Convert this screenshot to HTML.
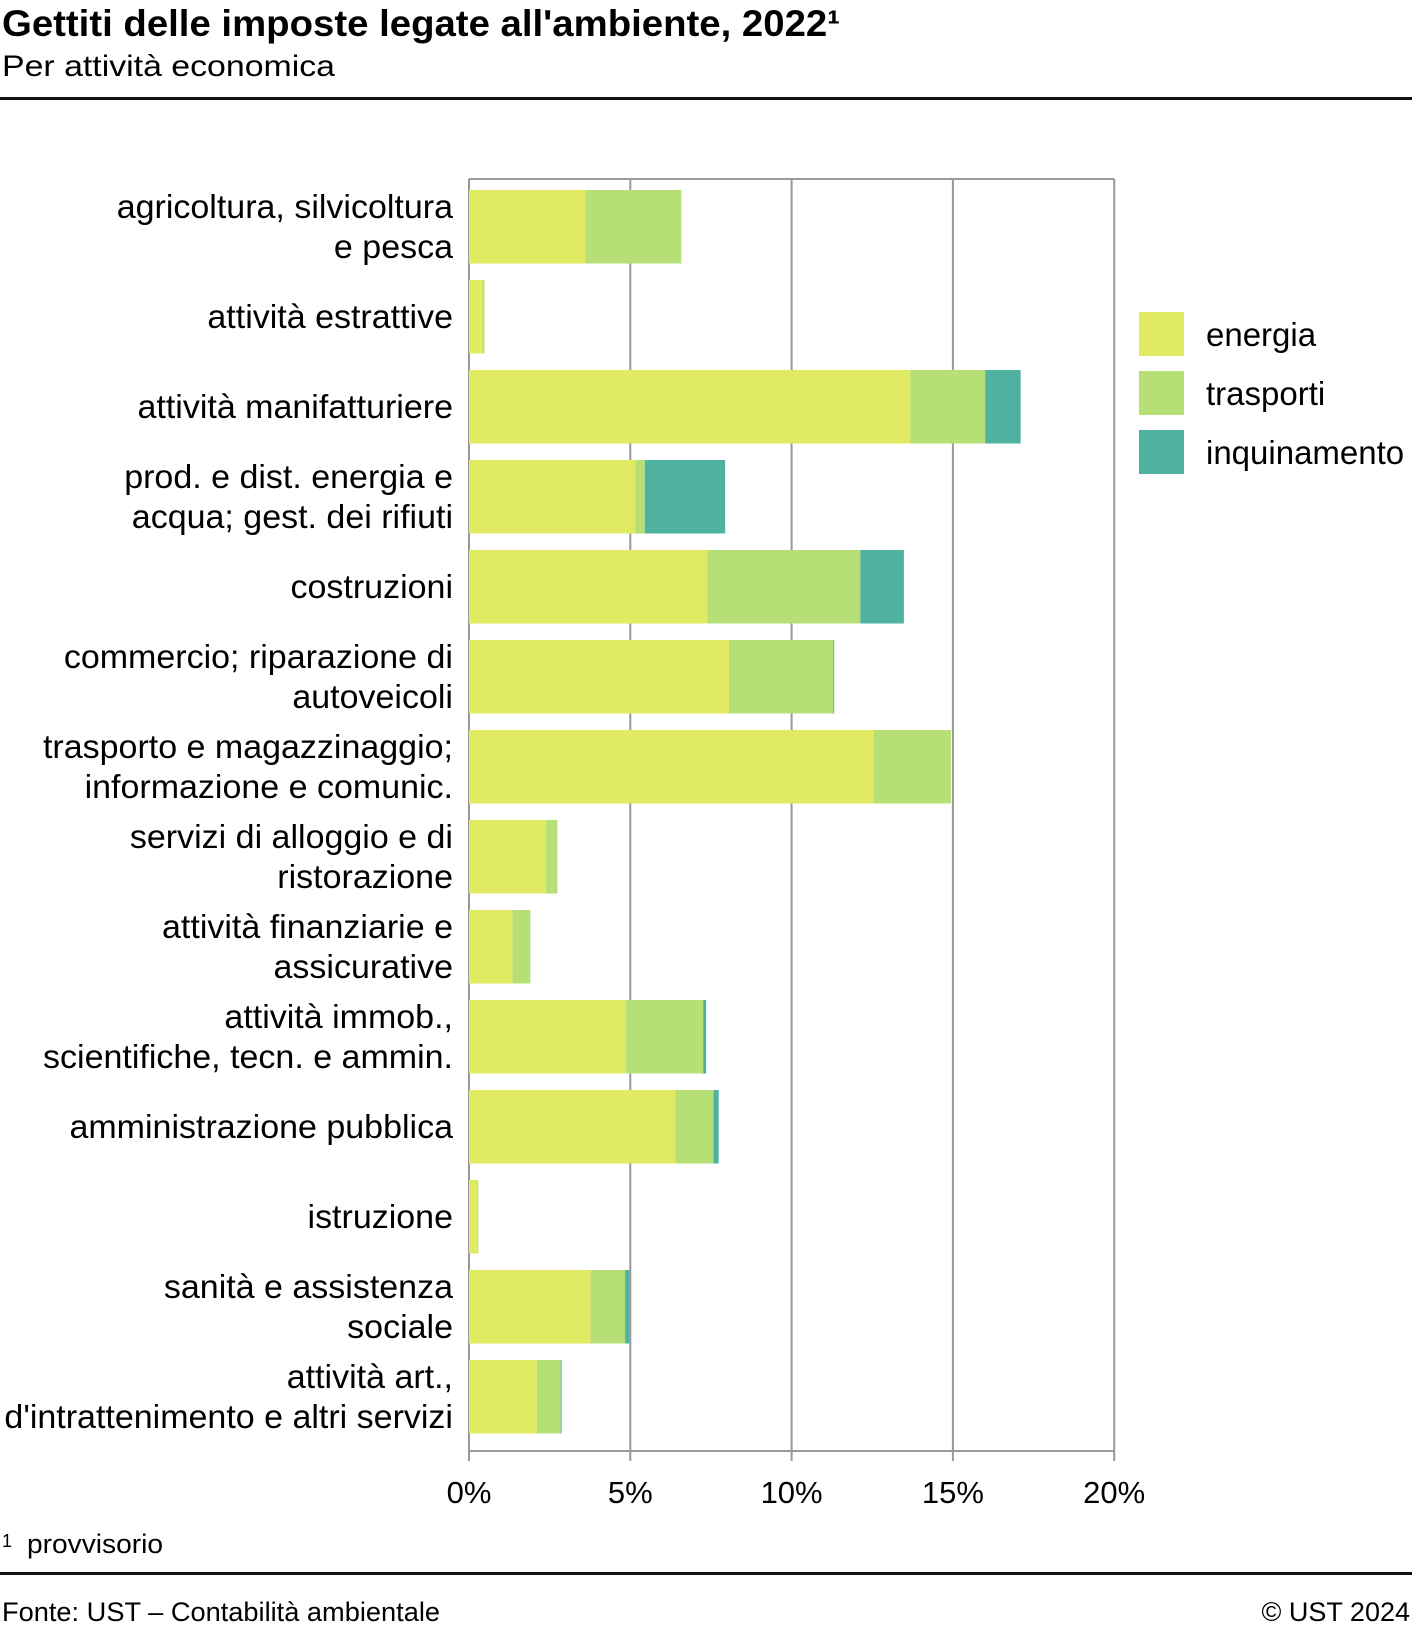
<!DOCTYPE html>
<html><head><meta charset="utf-8"><style>
body{margin:0;background:#fff;}
svg{display:block;font-family:"Liberation Sans",sans-serif;}
</style></head><body>
<svg id="chart" width="1412" height="1630" viewBox="0 0 1412 1630" xmlns="http://www.w3.org/2000/svg">
<text x="2" y="36" font-size="37" font-weight="bold" textLength="838" lengthAdjust="spacingAndGlyphs">Gettiti delle imposte legate all'ambiente, 2022¹</text>
<text x="2" y="76" font-size="30" textLength="333" lengthAdjust="spacingAndGlyphs">Per attività economica</text>
<rect x="0" y="97" width="1412" height="3" fill="#111"/>
<g id="grid"></g>
<g id="bars"></g>
<g id="labels"></g>
<g id="ticks"></g>
<g id="legend"></g>
<text x="2" y="1547" font-size="18">1</text>
<text x="27" y="1553" font-size="27" textLength="136" lengthAdjust="spacingAndGlyphs">provvisorio</text>
<rect x="0" y="1572" width="1412" height="3" fill="#111"/>
<text x="2" y="1621" font-size="27" textLength="438" lengthAdjust="spacingAndGlyphs">Fonte: UST – Contabilità ambientale</text>
<text x="1410" y="1621" font-size="27" text-anchor="end">© UST 2024</text>
</svg>
<script>
const categories=[["agricoltura, silvicoltura","e pesca"],["attività estrattive"],["attività manifatturiere"],["prod. e dist. energia e","acqua; gest. dei rifiuti"],["costruzioni"],["commercio; riparazione di","autoveicoli"],["trasporto e magazzinaggio;","informazione e comunic."],["servizi di alloggio e di","ristorazione"],["attività finanziarie e","assicurative"],["attività immob.,","scientifiche, tecn. e ammin."],["amministrazione pubblica"],["istruzione"],["sanità e assistenza","sociale"],["attività art.,","d'intrattenimento e altri servizi"]];
const energia=[3.61,0.42,13.68,5.16,7.39,8.06,12.55,2.39,1.35,4.87,6.39,0.26,3.77,2.1];
const trasporti=[2.97,0.06,2.32,0.29,4.74,3.23,2.39,0.35,0.55,2.39,1.19,0.03,1.07,0.74];
const inquinamento=[0,0,1.1,2.49,1.35,0.03,0,0,0,0.09,0.16,0,0.13,0.03];
const seriesNames=["energia","trasporti","inquinamento"];
const tickValues=[0,5,10,15,20];
const tickLabels=["0%","5%","10%","15%","20%"];
const NS="http://www.w3.org/2000/svg";
const colors=["#e0ea62","#b6e075","#4fb19f"];
const X0=469,PXPER=32.26,PTOP=179,PBOT=1451,BAR0=190,PITCH=90,BH=73.5;
const xs=v=>X0+v*PXPER;
const yTop=i=>BAR0+i*PITCH;
function mk(tag,attrs,parent){const e=document.createElementNS(NS,tag);for(const k in attrs)e.setAttribute(k,attrs[k]);parent.appendChild(e);return e;}
const grid=document.getElementById('grid');
tickValues.forEach((t,i)=>{
  const l=mk('line',{x1:xs(t),x2:xs(t),y1:PTOP,y2:PBOT+10,stroke:'#999','stroke-width':2},grid);
  
  
});
const plotTop=mk('line',{x1:X0,x2:xs(20),y1:PTOP,y2:PTOP,stroke:'#999','stroke-width':2},grid);


const axisLine=mk('line',{x1:X0,x2:xs(20),y1:PBOT,y2:PBOT,stroke:'#999','stroke-width':2},grid);


const bars=document.getElementById('bars');
const series=[energia,trasporti,inquinamento];
categories.forEach((c,i)=>{
  let acc=0;
  series.forEach((s,k)=>{
    const v=s[i];
    if(v>0){
      const r=mk('rect',{x:xs(acc),y:yTop(i),width:v*PXPER,height:BH,fill:colors[k]},bars);
      
      
    }
    acc+=v;
  });
});
const labels=document.getElementById('labels');
categories.forEach((c,i)=>{
  const cy=yTop(i)+BH/2;
  const base=c.length===1?cy+11:cy-9;
  c.forEach((line,j)=>{
    const t=mk('text',{x:453,y:base+j*40,'font-size':33,'text-anchor':'end'},labels);
    t.textContent=line;
    
    
    let w=0;
    try{w=t.getComputedTextLength();}catch(e){w=0;}
    if(w>0){
      t.setAttribute('textLength',w*1.03);
      t.setAttribute('lengthAdjust','spacingAndGlyphs');
    }
  });
});
const ticks=document.getElementById('ticks');
tickValues.forEach((t,i)=>{
  const tx=mk('text',{x:xs(t),y:1503,'font-size':31,'text-anchor':'middle'},ticks);
  tx.textContent=tickLabels[i];
  
  
});
const legend=document.getElementById('legend');
seriesNames.forEach((n,k)=>{
  const r=mk('rect',{x:1139,y:312+k*59,width:45,height:44,fill:colors[k]},legend);
  
  
  const t=mk('text',{x:1206,y:346+k*59,'font-size':33},legend);
  t.textContent=n;
  
  
});
</script>
</body></html>
